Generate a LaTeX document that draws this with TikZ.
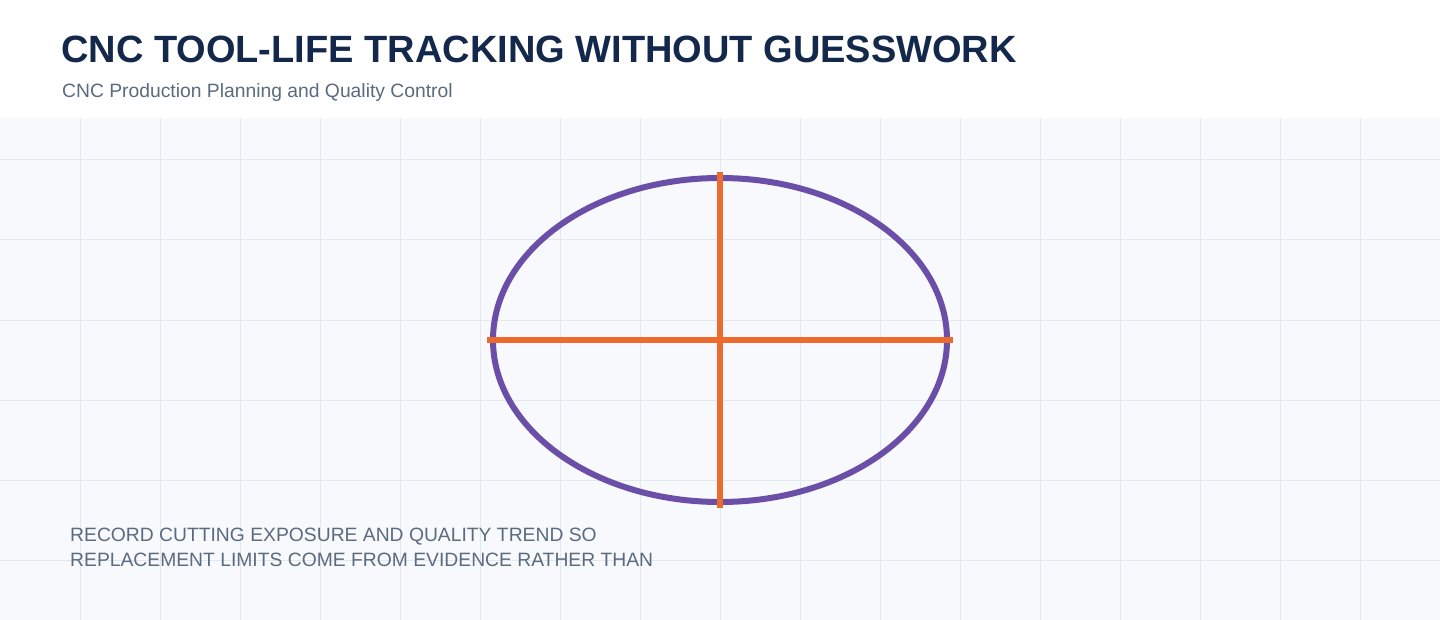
\documentclass[tikz,border=0pt]{standalone}
\usepackage{fontspec}
\setmainfont{Liberation Sans}
\usetikzlibrary{shapes.geometric}
\definecolor{bandbg}{HTML}{F7F9FC}
\definecolor{gridc}{HTML}{E3E7EE}
\definecolor{titlec}{HTML}{13284A}
\definecolor{subc}{HTML}{5B6B7F}
\definecolor{purp}{HTML}{6A4EA8}
\definecolor{orng}{HTML}{EC6A2E}
\tikzset{
  titletext/.style={anchor=base west, inner sep=0pt, text=titlec, font=\fontsize{38}{44}\selectfont\bfseries},
  subtext/.style={anchor=base west, inner sep=0pt, text=subc, font=\fontsize{19.3}{22}\selectfont},
  bodytext/.style={inner sep=0pt, text=subc, align=left, font=\fontsize{19.3}{25}\selectfont},
  ring/.style={ellipse, draw=purp, line width=6pt, inner sep=0pt, minimum width=454pt, minimum height=324pt},
  crossline/.style={draw=orng, line width=6pt},
}
\begin{document}
\begin{tikzpicture}[x=1pt,y=-1pt]
\useasboundingbox (0,0) rectangle (1440,620);
\fill[white] (0,0) rectangle (1440,620);
\fill[bandbg] (0,118) rectangle (1440,620);
\foreach \x in {80,160,...,1360} \draw[gridc, line width=1pt] (\x,118) -- (\x,620);
\foreach \y in {160,240,...,560} \draw[gridc, line width=1pt] (0,\y) -- (1440,\y);
\node[titletext] (title) at (61,63) {CNC TOOL-LIFE TRACKING WITHOUT GUESSWORK};
\node[subtext] (sub) at (62,98) {CNC Production Planning and Quality Control};
\node[ring] (ring) at (720,340) {};
\draw[crossline] ([xshift=-3pt]ring.west) -- ([xshift=3pt]ring.east);
\draw[crossline] ([yshift=3pt]ring.north) -- ([yshift=-3pt]ring.south);
\node[bodytext, anchor=north west] (body) at (70,528) {RECORD CUTTING EXPOSURE AND QUALITY TREND SO\\REPLACEMENT LIMITS COME FROM EVIDENCE RATHER THAN};
\end{tikzpicture}
\end{document}
